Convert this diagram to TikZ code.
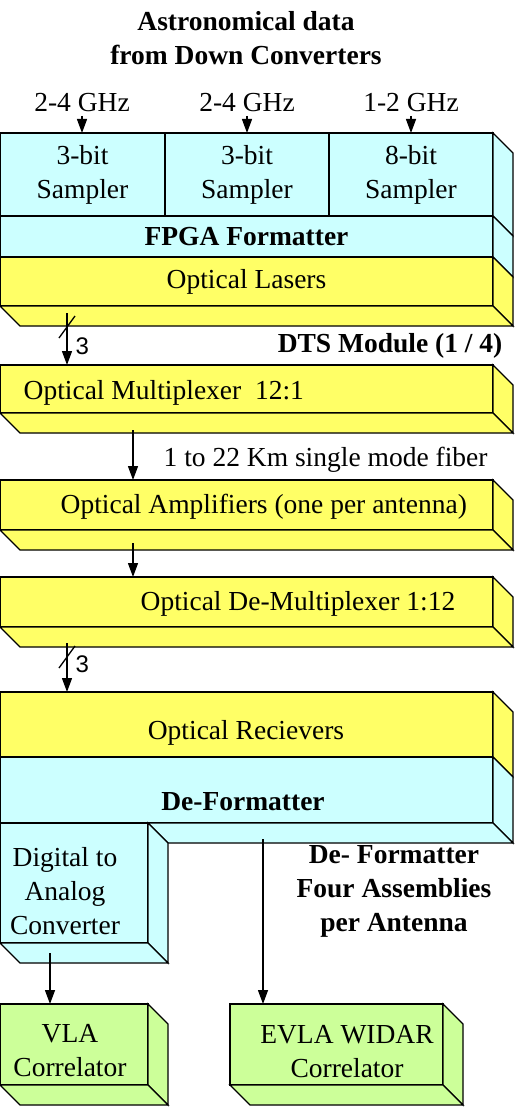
\documentclass[tikz,border=0pt]{standalone}
\usepackage{fontspec}
\setmainfont{Liberation Serif}
\newfontfamily\numfont{Liberation Sans}
\usepackage{tikz}
\usetikzlibrary{arrows.meta, positioning, calc}
\definecolor{cyanbox}{RGB}{204,255,255}
\definecolor{yellowbox}{RGB}{255,255,102}
\definecolor{greenbox}{RGB}{204,255,153}
% depth faces of a slab (right side and bottom)
\newcommand{\sideface}[2]{\filldraw[fill=#2] (#1.north east) -- ++(20,20)
  -- ($(#1.south east)+(20,20)$) -- (#1.south east) -- cycle;}
\newcommand{\bottomface}[2]{\filldraw[fill=#2] (#1.south west) -- (#1.south east)
  -- ++(20,20) -- ($(#1.south west)+(20,20)$) -- cycle;}

\begin{document}
\begin{tikzpicture}[x=1pt, y=-1pt, line width=1.3pt,
    >={Triangle[length=14pt, width=10pt]},
    slab/.style={draw, anchor=north west, inner sep=0pt, outer sep=0pt,
                 align=center, font=\fontsize{27.5}{34}\selectfont},
    lbl/.style={inner sep=0pt, align=center, font=\fontsize{27.5}{34}\selectfont},
    bold/.style={lbl, font=\fontsize{27.5}{34}\selectfont\bfseries},
    busnum/.style={inner sep=0pt, anchor=west, font=\numfont\fontsize{24}{28}\selectfont}]
    \useasboundingbox (0,0) rectangle (514,1107);
    % Inputs
    \node[bold] (title) at (246,38) {Astronomical data\\from Down Converters};
    \node[lbl, inner sep=3pt] (f1) at (82,103) {2-4 GHz};
    \node[lbl, inner sep=3pt] (f2) at (247,103) {2-4 GHz};
    \node[lbl, inner sep=3pt] (f3) at (411,103) {1-2 GHz};
    % DTS module
    \node[slab, fill=cyanbox, minimum width=165, minimum height=83] (s1) at (0,133) {3-bit\\Sampler};
    \node[slab, fill=cyanbox, minimum width=164, minimum height=83] (s2) at (s1.north east) {3-bit\\Sampler};
    \node[slab, fill=cyanbox, minimum width=164, minimum height=83] (s3) at (s2.north east) {8-bit\\Sampler};
    \node[slab, fill=cyanbox, minimum width=493, minimum height=41,
          font=\fontsize{27.5}{34}\selectfont\bfseries] (fpga) at (s1.south west) {FPGA Formatter};
    \node[slab, fill=yellowbox, minimum width=493, minimum height=49] (lasers) at (fpga.south west) {Optical Lasers};
    \sideface{s3}{cyanbox}
    \sideface{fpga}{cyanbox}
    \sideface{lasers}{yellowbox}
    \bottomface{lasers}{yellowbox}
    \draw[->] (f1.south) -- (f1.south |- s1.north);
    \draw[->] (f2.south) -- (f2.south |- s2.north);
    \draw[->] (f3.south) -- (f3.south |- s3.north);
    \node[bold, anchor=east] (dts) at (503,346) {DTS Module (1 / 4)};
    % Multiplexer
    \node[slab, fill=yellowbox, minimum width=493, minimum height=48] (mux) at (0,365) {};
    \node[lbl, anchor=west] (muxtxt) at ($(mux.west)+(23,4)$) {Optical Multiplexer\ \ 12:1};
    \sideface{mux}{yellowbox}
    \bottomface{mux}{yellowbox}
    \coordinate (b1) at ($(lasers.south west)+(67,7)$);
    \draw[->] (b1) -- (b1 |- mux.north);
    \draw ($(b1)+(-8,25)$) -- ++(16,-22);
    \node[busnum] (n1) at (75,346) {3};
    % Fiber and amplifiers
    \node[slab, fill=yellowbox, minimum width=493, minimum height=50] (amp) at (0,480) {};
    \node[lbl, anchor=west] (amptxt) at ($(amp.west)+(60,2)$) {Optical Amplifiers (one per antenna)};
    \sideface{amp}{yellowbox}
    \bottomface{amp}{yellowbox}
    \coordinate (c1) at ($(mux.south west)+(133,17)$);
    \draw[->] (c1) -- (c1 |- amp.north);
    \node[lbl, anchor=west] (fiber) at (163,460) {1 to 22 Km single mode fiber};
    % De-multiplexer
    \node[slab, fill=yellowbox, minimum width=493, minimum height=50] (demux) at (0,577) {};
    \node[lbl, anchor=west] (demuxtxt) at ($(demux.west)+(140,2)$) {Optical De-Multiplexer 1:12};
    \sideface{demux}{yellowbox}
    \bottomface{demux}{yellowbox}
    \coordinate (c2) at ($(amp.south west)+(133,13)$);
    \draw[->] (c2) -- (c2 |- demux.north);
    % Receivers and de-formatter
    \node[slab, fill=yellowbox, minimum width=493, minimum height=65] (recv) at (0,692) {};
    \node[slab, fill=cyanbox, minimum width=493, minimum height=66] (deform) at (recv.south west) {};
    \node[slab, fill=cyanbox, minimum width=148, minimum height=120] (dac) at (deform.south west) {};
    \sideface{recv}{yellowbox}
    \sideface{deform}{cyanbox}
    \filldraw[fill=cyanbox] (dac.north east) -- (deform.south east) -- ++(20,20)
      -- ($(dac.north east)+(20,20)$) -- cycle;
    \sideface{dac}{cyanbox}
    \bottomface{dac}{cyanbox}
    \node[lbl] (recvtxt) at (246,733) {Optical Recievers};
    \node[bold] (deftxt) at (243,802) {De-Formatter};
    \node[lbl] (dactxt) at (65,891) {Digital to\\Analog\\Converter};
    \coordinate (b2) at ($(demux.south west)+(67,16)$);
    \draw[->] (b2) -- (b2 |- recv.north);
    \draw ($(b2)+(-8,25)$) -- ++(16,-22);
    \node[busnum] (n2) at (75,664) {3};
    \node[bold] (note) at (394,891) {De- Formatter\\Four Assemblies\\per Antenna};
    % Correlators
    \node[slab, fill=greenbox, minimum width=148, minimum height=81] (vla) at (0,1004) {};
    \node[slab, fill=greenbox, minimum width=213, minimum height=81] (evla) at (230,1004) {};
    \sideface{vla}{greenbox}
    \bottomface{vla}{greenbox}
    \sideface{evla}{greenbox}
    \bottomface{evla}{greenbox}
    \node[lbl] (vlatxt) at (70,1051) {VLA\\Correlator};
    \node[lbl] (evlatxt) at (347,1052) {EVLA WIDAR\\Correlator};
    \coordinate (d1) at ($(dac.south west)+(50,10)$);
    \coordinate (d2) at ($(deform.south west)+(263,16)$);
    \draw[->] (d1) -- (d1 |- vla.north);
    \draw[->] (d2) -- (d2 |- evla.north);
\end{tikzpicture}
\end{document}
